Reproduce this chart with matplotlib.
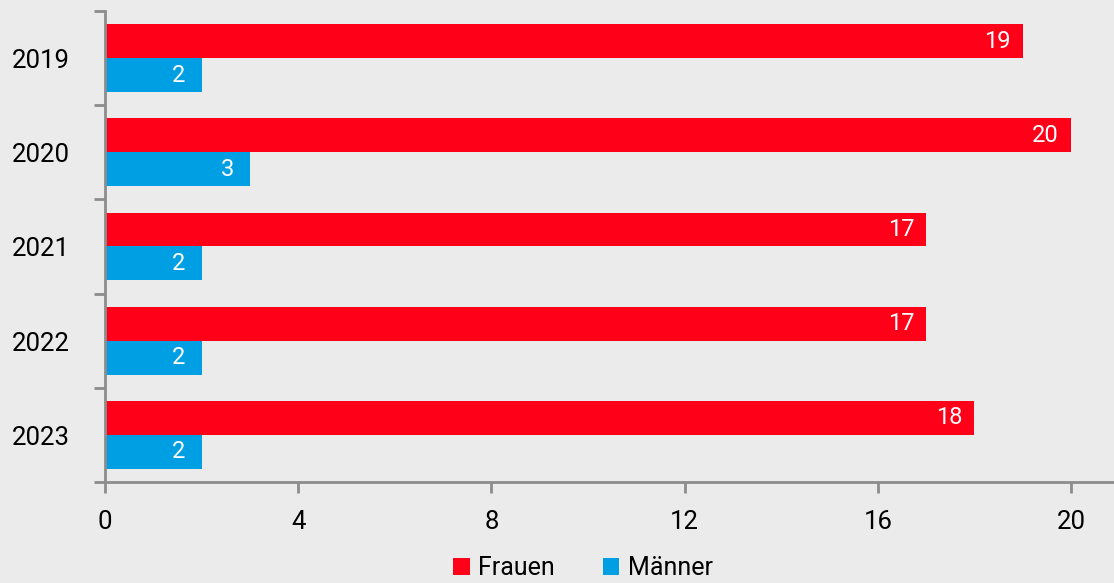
import numpy as np
import matplotlib.pyplot as plt
import matplotlib.transforms as mtransforms

years = ['2019', '2020', '2021', '2022', '2023']
frauen = [19, 20, 17, 17, 18]
maenner = [2, 3, 2, 2, 2]

RED = '#ff0019'
BLUE = '#009fe3'
BG = '#ebebeb'
GREY = '#8c8c8c'

plt.rcParams['font.family'] = ['Roboto', 'DejaVu Sans']

fig = plt.figure(figsize=(11.14, 5.83), dpi=100, facecolor=BG)
ax = fig.add_axes([105 / 1114, 1 - 482 / 583, 1 - 105 / 1114, 471 / 583])
ax.set_facecolor(BG)

y = np.arange(len(years))
h = 0.36
b1 = ax.barh(y - h / 2, frauen, height=h, color=RED, label='Frauen')
b2 = ax.barh(y + h / 2, maenner, height=h, color=BLUE, label='Männer')

for bars, vals, pad in [(b1, frauen, -12), (b2, maenner, -16)]:
    for bar, v in zip(bars, vals):
        ax.annotate(str(v), (bar.get_width(), bar.get_y() + bar.get_height() / 2),
                    xytext=(pad * 0.72, 0), textcoords='offset points',
                    ha='right', va='center', color='white', fontsize=17)

ax.set_xlim(0, (1114 - 105) / 48.3)
ax.set_ylim(len(years) - 0.5, -0.5)
ax.set_xticks([0, 4, 8, 12, 16, 20])
ax.set_yticks(np.arange(-0.5, len(years), 1.0))
ax.set_yticklabels([])

# year labels, left aligned near the figure edge
trans = mtransforms.blended_transform_factory(fig.transFigure, ax.transData)
for yi, yr in zip(y, years):
    ax.text(12 / 1114, yi + 0.03, yr, transform=trans, ha='left', va='center',
            fontsize=18.5, color='black')

ax.tick_params(axis='y', which='major', length=8, width=2, color=GREY)
ax.tick_params(axis='x', length=8, width=2, color=GREY, labelsize=18.5, pad=12)

for s in ['top', 'right']:
    ax.spines[s].set_visible(False)
for s in ['left', 'bottom']:
    ax.spines[s].set_color(GREY)
    ax.spines[s].set_linewidth(2)

ax.legend(loc='center', bbox_to_anchor=(583 / 1114, 1 - 568 / 583),
          bbox_transform=fig.transFigure, ncol=2,
          frameon=False, fontsize=18, handlelength=0.65, handleheight=0.65,
          handletextpad=0.35, columnspacing=1.9, borderpad=0)

plt.savefig('out.png', dpi=100, facecolor=BG)
